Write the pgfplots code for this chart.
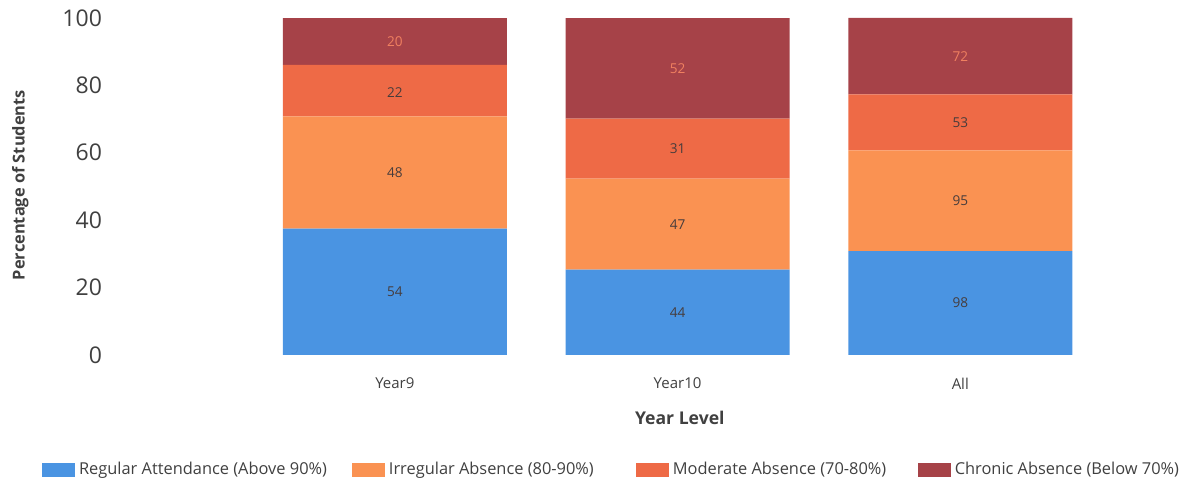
\documentclass[border=0pt]{standalone}
\usepackage{pgfplots}
\pgfplotsset{compat=1.18}
\usepackage{pgfplotstable}
\usepackage{fontspec}
\setmainfont{Open Sans}
\definecolor{cReg}{RGB}{74,148,226}
\definecolor{cIrr}{RGB}{250,146,82}
\definecolor{cMod}{RGB}{238,106,70}
\definecolor{cChr}{RGB}{166,66,72}
\definecolor{cTxt}{RGB}{64,64,64}
\definecolor{cLbl}{RGB}{70,60,60}
\definecolor{cLblTop}{RGB}{240,128,96}

% x: category index, pct: share of students (%), cnt: number of students, mid: label position
\pgfplotstableread{
x pct cnt mid
0 37.500 54 18.75
1 25.287 44 12.64
2 30.818 98 15.41
}\regular
\pgfplotstableread{
x pct cnt mid
0 33.333 48 54.17
1 27.011 47 38.79
2 29.874 95 45.75
}\irregular
\pgfplotstableread{
x pct cnt mid
0 15.278 22 77.78
1 17.816 31 61.21
2 16.667 53 69.03
}\moderate
\pgfplotstableread{
x pct cnt mid
0 13.889 20 93.06
1 29.885 52 85.06
2 22.642 72 88.68
}\chronic

\pgfplotsset{
  common/.style={
    scale only axis, width=532.5pt, height=168.5pt,
    xmin=-0.99, xmax=2.776, ymin=0, ymax=100,
    clip=false,
  },
}

\begin{document}
\begin{tikzpicture}
\begin{axis}[
  common,
  ybar stacked, bar width=112pt,
  axis line style={draw=none}, tick style={draw=none},
  xtick={0,1,2}, xticklabels={Year9,Year10,All},
  ytick={0,20,40,60,80,100},
  /pgf/number format/assume math mode=true,
  yticklabel style={font=\fontsize{11.5}{13}\selectfont, text=cTxt, xshift=-3pt},
  xticklabel style={font=\fontsize{7.5}{9}\selectfont, text=cTxt, yshift=-8pt},
  xlabel={Year Level},
  ylabel={Percentage of Students},
  xlabel style={font=\bfseries\fontsize{8.8}{10}\selectfont, text=cTxt,
    at={(axis description cs:0.5305,-0.187)}, anchor=center},
  ylabel style={font=\bfseries\fontsize{8.2}{10}\selectfont, text=cTxt,
    at={(axis description cs:-0.089,0.504)}, anchor=center, rotate=0},
  legend columns=4,
  legend style={draw=none, fill=none, at={(axis description cs:-0.0745,-0.341)}, anchor=west,
    font=\fontsize{8.2}{10}\selectfont, text=cTxt,
    /tikz/every even column/.append style={column sep=0pt}},
  legend cell align=left,
  legend image code/.code={\fill[#1] (0pt,-3.6pt) rectangle (16.5pt,3.6pt);},
]
\addplot[fill=cReg, draw=none] table[x=x, y=pct] {\regular};
\addlegendentry{\makebox[134.5pt][l]{Regular Attendance (Above 90\%)}}
\addplot[fill=cIrr, draw=none] table[x=x, y=pct] {\irregular};
\addlegendentry{\makebox[121.5pt][l]{Irregular Absence (80-90\%)}}
\addplot[fill=cMod, draw=none] table[x=x, y=pct] {\moderate};
\addlegendentry{\makebox[120.5pt][l]{Moderate Absence (70-80\%)}}
\addplot[fill=cChr, draw=none] table[x=x, y=pct] {\chronic};
\addlegendentry{Chronic Absence (Below 70\%)}
\path (axis description cs:-0.108,1.0534) rectangle (axis description cs:1.0085,-0.3798);
\end{axis}
\begin{axis}[
  common, hide axis,
  nodes near coords, point meta=explicit symbolic,
  every node near coord/.append style={anchor=center, font=\fontsize{6.8}{8}\selectfont},
]
\addplot[draw=none, mark=none, every node near coord/.append style={text=cLbl}] table[x=x, y=mid, meta=cnt] {\regular};
\addplot[draw=none, mark=none, every node near coord/.append style={text=cLbl}] table[x=x, y=mid, meta=cnt] {\irregular};
\addplot[draw=none, mark=none, every node near coord/.append style={text=cLbl}] table[x=x, y=mid, meta=cnt] {\moderate};
\addplot[draw=none, mark=none, every node near coord/.append style={text=cLblTop}] table[x=x, y=mid, meta=cnt] {\chronic};
\end{axis}
\end{tikzpicture}
\end{document}
